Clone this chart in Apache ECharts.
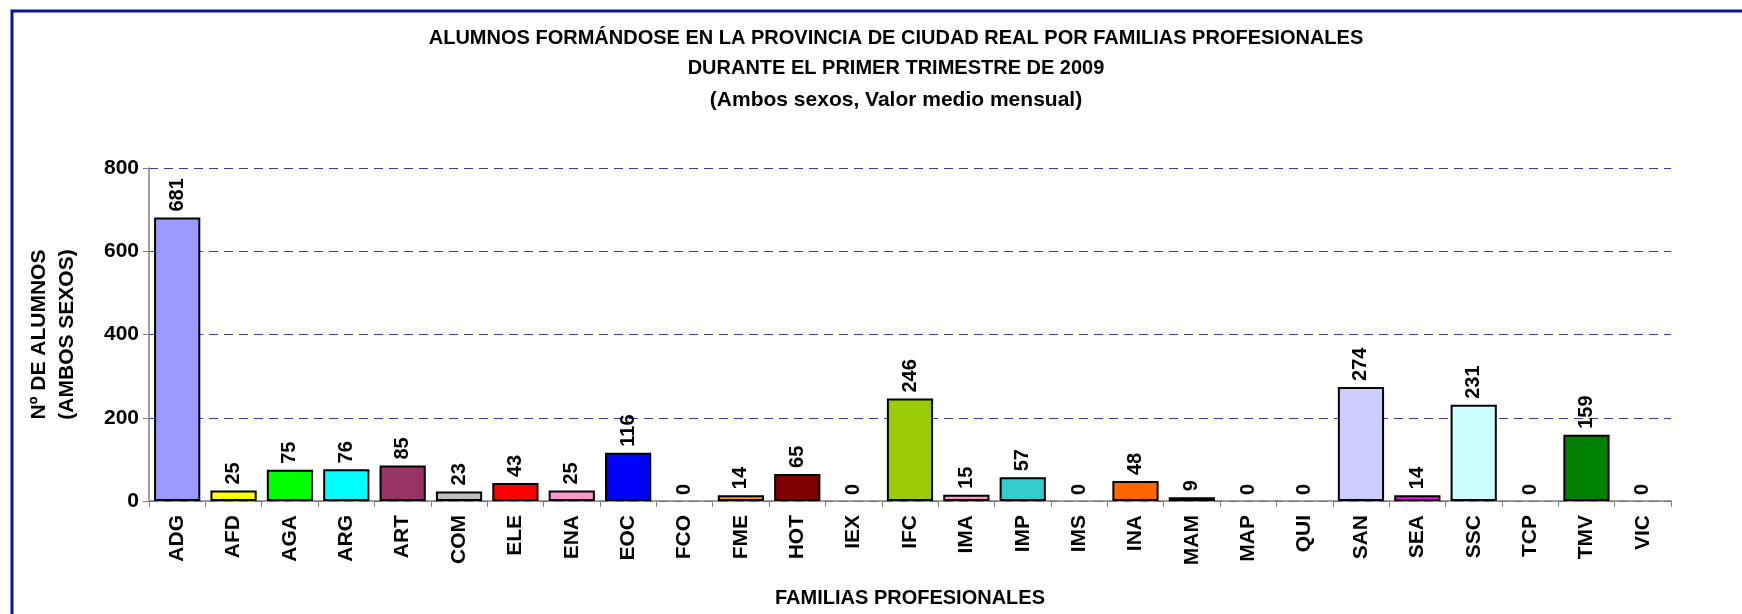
<!DOCTYPE html>
<html>
<head>
<meta charset="utf-8">
<script src="https://cdn.jsdelivr.net/npm/echarts@6/dist/echarts.min.js"></script>
<style>
  html, body { margin: 0; padding: 0; background: #fff; }
  #chart { width: 1742px; height: 614px; }
</style>
</head>
<body>
<div id="chart"></div>
<script>
// familias profesionales, valor medio mensual
var familias = ['ADG', 'AFD', 'AGA', 'ARG', 'ART', 'COM', 'ELE', 'ENA', 'EOC', 'FCO', 'FME', 'HOT', 'IEX', 'IFC',
	'IMA', 'IMP', 'IMS', 'INA', 'MAM', 'MAP', 'QUI', 'SAN', 'SEA', 'SSC', 'TCP', 'TMV', 'VIC'];
var alumnos = [681, 25, 75, 76, 85, 23, 43, 25, 116, 0, 14, 65, 0, 246, 15, 57, 0, 48, 9, 0, 0, 274, 14, 231, 0, 159, 0];
var colores = ['#9999ff', '#ffff00', '#00ff00', '#00ffff', '#993366', '#c0c0c0', '#ff0000', '#ff99cc', '#0000ff', '#ffffff',
	'#ff9900', '#800000', '#ffffff', '#99cc00', '#ff99cc', '#33cccc', '#ffffff', '#ff6600', '#333399', '#ffffff',
	'#ffffff', '#ccccff', '#ff00ff', '#ccffff', '#ffffff', '#008000', '#ffffff'];
var yTicks = [0, 200, 400, 600, 800];

var fuente = '"Liberation Sans", Arial, sans-serif';

var chart = echarts.init(document.getElementById('chart'));

var datos = [];
alumnos.forEach(function(v, i) {
	datos.push({
		value : v,
		// las barras a cero no se dibujan, solo la etiqueta
		itemStyle : { color : colores[i], borderWidth : v > 0 ? 2 : 0 }
	});
});

chart.setOption({
	animation : false,
	backgroundColor : '#ffffff',
	title : {
		text : 'ALUMNOS FORMÁNDOSE EN LA PROVINCIA DE CIUDAD REAL POR FAMILIAS PROFESIONALES\nDURANTE EL PRIMER TRIMESTRE DE 2009',
		subtext : '(Ambos sexos, Valor medio mensual)',
		left : 891,
		top : 18,
		textAlign : 'center',
		itemGap : 4,
		textStyle : {
			fontFamily : fuente,
			fontWeight : 'bold',
			fontSize : 20,
			lineHeight : 30,
			color : '#000'
		},
		subtextStyle : {
			fontFamily : fuente,
			fontWeight : 'bold',
			fontSize : 21,
			lineHeight : 26,
			color : '#000'
		}
	},
	graphic : [{
		type : 'rect',
		shape : { x : 12, y : 11, width : 1760, height : 640 },
		style : { fill : 'none', stroke : '#10109a', lineWidth : 3 },
		silent : true
	}],
	grid : {
		left : 149,
		right : 71,
		top : 168,
		bottom : 113,
		containLabel : false,
		outerBoundsMode : 'none'
	},
	xAxis : {
		type : 'category',
		data : familias,
		name : 'FAMILIAS PROFESIONALES',
		nameLocation : 'middle',
		nameGap : 87,
		nameTextStyle : {
			fontFamily : fuente,
			fontWeight : 'bold',
			fontSize : 20,
			color : '#000'
		},
		axisLine : { lineStyle : { color : '#808080', width : 1.5 } },
		axisTick : { show : true, alignWithLabel : false, length : 6, lineStyle : { color : '#808080' } },
		axisLabel : {
			rotate : 90,
			margin : 14,
			fontFamily : fuente,
			fontWeight : 'bold',
			fontSize : 21,
			color : '#000'
		}
	},
	yAxis : {
		type : 'value',
		min : yTicks[0],
		max : yTicks[yTicks.length - 1],
		interval : 200,
		name : 'Nº DE ALUMNOS\n(AMBOS SEXOS)',
		nameLocation : 'middle',
		nameRotate : 90,
		nameGap : 68,
		nameTextStyle : {
			fontFamily : fuente,
			fontWeight : 'bold',
			fontSize : 21,
			lineHeight : 28,
			color : '#000'
		},
		axisLine : { show : true, lineStyle : { color : '#808080', width : 1.5 } },
		axisTick : { show : true, length : 6, lineStyle : { color : '#808080' } },
		axisLabel : {
			margin : 10,
			fontFamily : fuente,
			fontWeight : 'bold',
			fontSize : 21,
			color : '#000'
		},
		splitLine : {
			show : true,
			lineStyle : { color : '#3a3aa8', type : [9, 6], width : 1 }
		}
	},
	series : [{
		type : 'bar',
		data : datos,
		barCategoryGap : '18%',
		itemStyle : { borderColor : '#000', borderWidth : 2 },
		label : {
			show : true,
			position : 'top',
			rotate : 90,
			align : 'left',
			verticalAlign : 'middle',
			distance : 6,
			fontFamily : fuente,
			fontWeight : 'bold',
			fontSize : 20,
			color : '#000'
		}
	}]
});
</script>
</body>
</html>
